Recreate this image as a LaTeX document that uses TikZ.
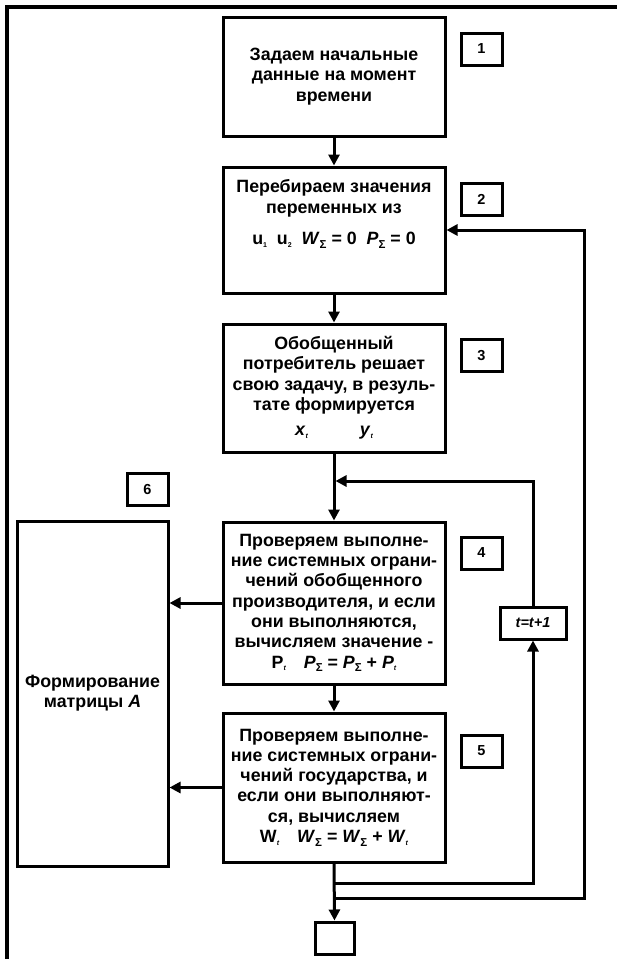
\documentclass[tikz,border=0pt]{standalone}
\usepackage{fontspec}
\setmainfont{Liberation Sans}
\usetikzlibrary{arrows.meta}
\newcommand{\lsub}[1]{\raisebox{-0.3ex}{\fontsize{7}{7}\selectfont #1}}
\newcommand{\ssub}{\raisebox{-0.4ex}{\fontsize{11.5}{11.5}\selectfont\upshape Σ}}
\begin{document}
\begin{tikzpicture}[x=1pt,y=-1pt,
  box/.style={draw,line width=3pt,minimum width=222pt,align=center,inner sep=0pt,font=\fontsize{17.8}{20.3}\selectfont\bfseries},
  txt/.style={align=center,inner sep=0pt,font=\fontsize{17.8}{20.3}\selectfont\bfseries},
  numbox/.style={draw,line width=3pt,minimum width=41pt,minimum height=32pt,inner sep=0pt,font=\fontsize{14.5}{14.5}\selectfont\bfseries},
  conn/.style={line width=3pt},
  arr/.style={conn,-{Triangle[length=11pt,width=11pt]}}]
\useasboundingbox (0,0) rectangle (617,959);
% frame
\draw[line width=4.5pt] (7,959) -- (7,7) -- (617,7);
% boxes
\node[box,minimum height=119pt] (b1) at (334,76.5) {Задаем начальные\\данные на момент\\времени};
\node[box,minimum height=126pt] (b2) at (334,230) {};
\node[txt] (b2t) at (334,214) {Перебираем значения\\переменных из\\[11pt]u\lsub{1}\ \ u\lsub{2}\ \ \textit{W}\ssub\ = 0\ \ \textit{P}\ssub\ = 0};
\node[box,minimum height=128pt] (b3) at (334,388) {Обобщенный\\потребитель решает\\свою задачу, в резуль-\\тате формируется\\[5pt]\textit{x}\lsub{\itshape t}\hspace{52pt}\textit{y}\lsub{\itshape t}\hspace{18pt}};
\node[box,minimum height=162pt] (b4) at (334,603) {Проверяем выполне-\\ние системных ограни-\\чений обобщенного\\производителя, и если\\они выполняются,\\вычисляем значение -\\P\lsub{\itshape t}\hspace{18pt}\textit{P}\ssub\ = \textit{P}\ssub\ + \textit{P}\lsub{\itshape t}};
\node[box,minimum height=149pt] (b5) at (334,787.5) {Проверяем выполне-\\ние системных ограни-\\чений государства, и\\если они выполняют-\\ся, вычисляем\\W\lsub{\itshape t}\hspace{18pt}\textit{W}\ssub\ = \textit{W}\ssub\ + \textit{W}\lsub{\itshape t}\hspace{4pt}};
\node[box,minimum width=151pt,minimum height=345pt] (b6) at (92.5,693.5) {Формирование\\матрицы \textit{A}};
% number labels
\node[numbox] (l1) at (481.5,49) {1};
\node[numbox] (l2) at (481.5,199) {2};
\node[numbox] (l3) at (481.5,355.5) {3};
\node[numbox] (l4) at (481.5,553) {4};
\node[numbox] (l5) at (481.5,751) {5};
\node[numbox] (l6) at (147.5,489.5) {6};
\node[numbox,minimum width=66pt,font=\fontsize{14.5}{14.5}\selectfont\bfseries\itshape] (tb) at (533,623) {t=t+1};
\node[draw,line width=3pt,minimum width=39pt,minimum height=32pt,inner sep=0pt] (end) at (334.5,938) {};
% coordinates
\coordinate (jt) at (335.5,481);
\coordinate (c1) at (533,481);
\coordinate (j2) at (334,883);
\coordinate (c2) at (533,883);
\coordinate (j3) at (334,898);
\coordinate (c3) at (584,898);
\coordinate (c4) at (584,230);
% connectors
\draw[arr] (b1.south) -- (b2.north);
\draw[arr] (b2.south) -- (b3.north);
\draw[arr] (b3.south) -- (b4.north);
\draw[arr] (tb.north) -- (c1) -- (jt);
\draw[arr] (b4.west) -- (b4.west -| b6.east);
\draw[arr] (b5.west) -- (b5.west -| b6.east);
\draw[arr] (b4.south) -- (b5.north);
\draw[arr] (b5.south) -- (end.north);
\draw[arr] (j2) -- (c2) -- (tb.south);
\draw[arr] (j3) -- (c3) -- (c4) -- (b2.east);
\end{tikzpicture}
\end{document}
